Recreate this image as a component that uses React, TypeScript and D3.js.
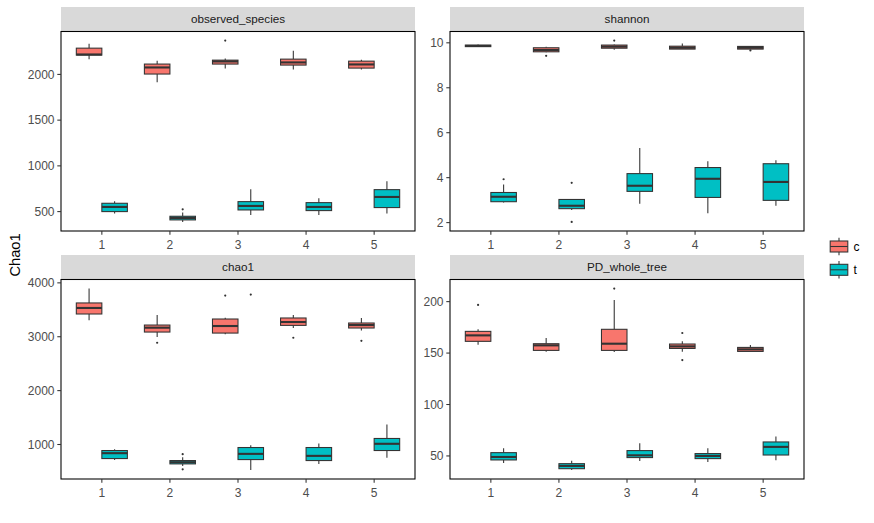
import { useEffect, useRef } from "react";
import * as d3 from "d3";

const sites = ["1", "2", "3", "4", "5"];
const treatments = ["c", "t"];
const metrics = ["observed_species", "shannon", "chao1", "PD_whole_tree"];
const yTitle = "Chao1";

// each row: [lower whisker, q1, median, q3, upper whisker] for sites 1..5
const observedC = [
  [2167, 2211, 2218, 2287, 2334],
  [1913, 2004, 2076, 2113, 2149],
  [2065, 2113, 2142, 2156, 2174],
  [2054, 2102, 2131, 2167, 2258],
  [2054, 2069, 2109, 2145, 2160],
];
const observedT = [
  [478, 500, 551, 591, 613],
  [387, 409, 430, 449, 490],
  [464, 518, 562, 609, 743],
  [464, 511, 551, 598, 645],
  [478, 544, 660, 740, 831],
];
const shannonC = [
  [9.81, 9.83, 9.86, 9.9, 9.93],
  [9.58, 9.6, 9.68, 9.78, 9.82],
  [9.69, 9.76, 9.83, 9.9, 9.93],
  [9.72, 9.72, 9.78, 9.85, 9.97],
  [9.72, 9.72, 9.78, 9.84, 9.86],
];
const shannonT = [
  [2.89, 2.93, 3.15, 3.34, 3.7],
  [2.56, 2.62, 2.75, 3.03, 3.03],
  [2.84, 3.39, 3.64, 4.18, 5.32],
  [2.42, 3.12, 3.95, 4.45, 4.73],
  [2.75, 2.99, 3.81, 4.62, 4.77],
];
const chao1C = [
  [3304, 3422, 3534, 3627, 3894],
  [2994, 3087, 3168, 3217, 3404],
  [3044, 3068, 3199, 3329, 3354],
  [3162, 3211, 3273, 3348, 3404],
  [3118, 3162, 3217, 3255, 3348],
];
const chao1T = [
  [714, 739, 839, 888, 913],
  [603, 640, 671, 702, 764],
  [528, 720, 826, 944, 988],
  [640, 702, 789, 944, 1019],
  [752, 888, 1013, 1112, 1373],
];
const pdC = [
  [158.1, 161.4, 167.2, 171.1, 173.1],
  [151.3, 152.6, 157.5, 159.1, 164.6],
  [151.0, 152.6, 159.1, 173.1, 201.6],
  [151.3, 154.5, 156.5, 158.8, 161.4],
  [151.6, 151.6, 153.6, 155.5, 157.8],
];
const pdT = [
  [43.2, 46.1, 49.0, 53.2, 57.5],
  [36.4, 37.6, 40.3, 42.5, 45.4],
  [45.1, 48.4, 50.6, 55.2, 62.3],
  [44.2, 47.4, 50.0, 52.3, 57.5],
  [45.8, 50.9, 58.8, 63.6, 68.8],
];

// outliers: [site, treatment, value]
const observedOut: [string, string, number][] = [
  ["2", "t", 525],
  ["3", "c", 2370],
];
const shannonOut: [string, string, number][] = [
  ["2", "c", 9.42],
  ["3", "c", 10.1],
  ["5", "c", 9.66],
  ["1", "t", 3.93],
  ["2", "t", 3.77],
  ["2", "t", 2.03],
];
const chao1Out: [string, string, number][] = [
  ["2", "c", 2888],
  ["3", "c", 3764],
  ["4", "c", 2981],
  ["5", "c", 2925],
  ["2", "t", 820],
  ["2", "t", 540],
  ["3", "t", 3783],
];
const pdOut: [string, string, number][] = [
  ["1", "c", 196.8],
  ["3", "c", 212.7],
  ["4", "c", 169.5],
  ["4", "c", 143.2],
];

const observedTicks = [500, 1000, 1500, 2000];
const shannonTicks = [2, 4, 6, 8, 10];
const chao1Ticks = [1000, 2000, 3000, 4000];
const pdTicks = [50, 100, 150, 200];

export default function App() {
  const ref = useRef<SVGSVGElement | null>(null);

  useEffect(() => {
    if (!ref.current) return;

    const width = 874;
    const height = 523;
    const svg = d3.select(ref.current).attr("width", width).attr("height", height);
    svg.selectAll("*").remove();

    svg.append("rect").attr("width", width).attr("height", height).attr("fill", "#fff");

    const font = "'Liberation Sans', Arial, sans-serif";
    const colors = d3.scaleOrdinal<string>().domain(treatments).range(["#F8766D", "#00BFC4"]);

    const colX = [61, 450];
    const rowY = [7, 255];
    const stripH = 24.5;
    const panelW = 354;
    const panelH = 199.5;

    const panelData = [
      { c: observedC, t: observedT, out: observedOut, ticks: observedTicks },
      { c: shannonC, t: shannonT, out: shannonOut, ticks: shannonTicks },
      { c: chao1C, t: chao1T, out: chao1Out, ticks: chao1Ticks },
      { c: pdC, t: pdT, out: pdOut, ticks: pdTicks },
    ];

    metrics.forEach((name, i) => {
      const d = panelData[i];
      const px = colX[i % 2];
      const top = rowY[Math.floor(i / 2)];
      const py = top + stripH;

      // strip
      svg.append("rect")
        .attr("x", px).attr("y", top)
        .attr("width", panelW).attr("height", stripH)
        .attr("fill", "#D9D9D9");
      svg.append("text")
        .attr("x", px + panelW / 2).attr("y", top + stripH / 2)
        .attr("dy", "0.35em")
        .attr("text-anchor", "middle")
        .attr("font-family", font).attr("font-size", 11.7)
        .attr("fill", "#1A1A1A")
        .text(name);

      // scales (ggplot-like 5% expansion)
      const all = [
        ...d.c.flat(), ...d.t.flat(), ...d.out.map(o => o[2]),
      ];
      const [lo, hi] = d3.extent(all) as [number, number];
      const pad = (hi - lo) * 0.05;
      const y = d3.scaleLinear().domain([lo - pad, hi + pad]).range([py + panelH, py]);
      const x = d3.scaleLinear().domain([0.4, sites.length + 0.6]).range([px, px + panelW]);
      const dodge = d3.scaleBand().domain(treatments).range([-0.375, 0.375]);

      const g = svg.append("g");

      treatments.forEach(tr => {
        const stats = tr === "c" ? d.c : d.t;
        stats.forEach((s, k) => {
          const x0 = x(k + 1 + dodge(tr)!);
          const x1 = x(k + 1 + dodge(tr)! + dodge.bandwidth());
          const xm = (x0 + x1) / 2;
          const [wl, q1, med, q3, wh] = s;

          g.append("line")
            .attr("x1", xm).attr("x2", xm)
            .attr("y1", y(wh)).attr("y2", y(q3))
            .attr("stroke", "#333").attr("stroke-width", 1.07);
          g.append("line")
            .attr("x1", xm).attr("x2", xm)
            .attr("y1", y(q1)).attr("y2", y(wl))
            .attr("stroke", "#333").attr("stroke-width", 1.07);
          g.append("rect")
            .attr("x", x0).attr("y", y(q3))
            .attr("width", x1 - x0).attr("height", Math.max(0, y(q1) - y(q3)))
            .attr("fill", colors(tr))
            .attr("stroke", "#333").attr("stroke-width", 1.07);
          g.append("line")
            .attr("x1", x0).attr("x2", x1)
            .attr("y1", y(med)).attr("y2", y(med))
            .attr("stroke", "#333").attr("stroke-width", 2.1);
        });
      });

      // outliers
      d.out.forEach(([site, tr, v]) => {
        const k = sites.indexOf(site);
        const xm = x(k + 1 + dodge(tr)! + dodge.bandwidth() / 2);
        g.append("circle")
          .attr("cx", xm).attr("cy", y(v)).attr("r", 1.1)
          .attr("fill", "#333");
      });

      // panel border
      svg.append("rect")
        .attr("x", px).attr("y", py)
        .attr("width", panelW).attr("height", panelH)
        .attr("fill", "none").attr("stroke", "#000").attr("stroke-width", 1.07);

      // x axis
      sites.forEach((s, k) => {
        svg.append("line")
          .attr("x1", x(k + 1)).attr("x2", x(k + 1))
          .attr("y1", py + panelH).attr("y2", py + panelH + 3.7)
          .attr("stroke", "#333").attr("stroke-width", 1.07);
        svg.append("text")
          .attr("x", x(k + 1)).attr("y", py + panelH + 18)
          .attr("text-anchor", "middle")
          .attr("font-family", font).attr("font-size", 12)
          .attr("fill", "#4D4D4D")
          .text(s);
      });

      // y axis
      d.ticks.forEach(t => {
        svg.append("line")
          .attr("x1", px - 3.7).attr("x2", px)
          .attr("y1", y(t)).attr("y2", y(t))
          .attr("stroke", "#333").attr("stroke-width", 1.07);
        svg.append("text")
          .attr("x", px - 6.5).attr("y", y(t))
          .attr("dy", "0.36em")
          .attr("text-anchor", "end")
          .attr("font-family", font).attr("font-size", 12)
          .attr("fill", "#4D4D4D")
          .text(String(t));
      });
    });

    // y title
    svg.append("text")
      .attr("transform", "translate(14.5,255) rotate(-90)")
      .attr("dy", "0.35em")
      .attr("text-anchor", "middle")
      .attr("font-family", font).attr("font-size", 14.67)
      .attr("fill", "#000")
      .text(yTitle);

    // legend
    const keySize = 22;
    const legendX = 828;
    const legendY = [235.5, 258.8];
    treatments.forEach((tr, i) => {
      const ky = legendY[i];
      const kx = legendX;
      const lg = svg.append("g");
      lg.append("line")
        .attr("x1", kx + keySize / 2).attr("x2", kx + keySize / 2)
        .attr("y1", ky + keySize * 0.1).attr("y2", ky + keySize * 0.9)
        .attr("stroke", "#333").attr("stroke-width", 1.07);
      lg.append("rect")
        .attr("x", kx + keySize * 0.1).attr("y", ky + keySize * 0.25)
        .attr("width", keySize * 0.8).attr("height", keySize * 0.5)
        .attr("fill", colors(tr))
        .attr("stroke", "#333").attr("stroke-width", 1.07);
      lg.append("line")
        .attr("x1", kx + keySize * 0.1).attr("x2", kx + keySize * 0.9)
        .attr("y1", ky + keySize / 2).attr("y2", ky + keySize / 2)
        .attr("stroke", "#333").attr("stroke-width", 1.07);
      lg.append("text")
        .attr("x", kx + keySize + 3.5).attr("y", ky + keySize / 2)
        .attr("dy", "0.35em")
        .attr("font-family", font).attr("font-size", 12)
        .attr("fill", "#000")
        .text(tr);
    });
  }, []);

  return (
    <svg
      ref={ref}
      style={{ position: "absolute", left: 0, top: 0, display: "block" }}
    ></svg>
  );
}
